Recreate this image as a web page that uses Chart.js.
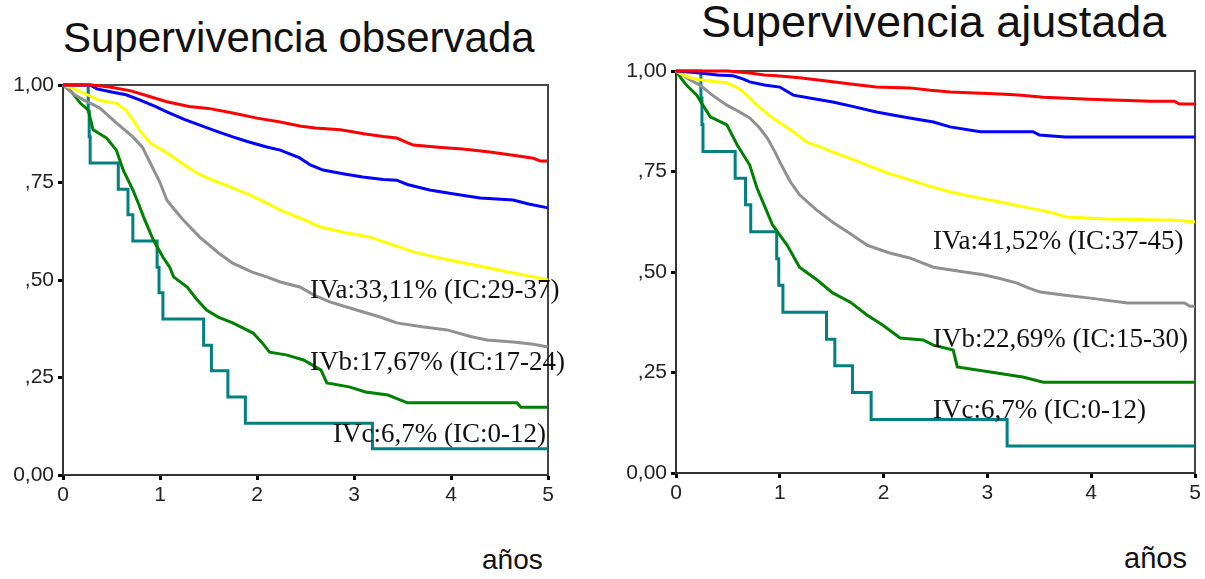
<!DOCTYPE html>
<html>
<head>
<meta charset="utf-8">
<script src="https://cdn.jsdelivr.net/npm/chart.js@4/dist/chart.umd.min.js"></script>
<style>
  body { margin: 0; background: #fff; }
  #wrap { position: relative; width: 1205px; height: 579px; overflow: hidden; background: #fff; }
  canvas { position: absolute; top: 0; }
  .titulo { position: absolute; font-family: "Liberation Sans", Arial, sans-serif; color: #111; line-height: 1; white-space: nowrap; }
</style>
</head>
<body>
<div id="wrap">
  <div class="titulo" style="left:63px; top:17px; font-size:42px;">Supervivencia observada</div>
  <div class="titulo" style="left:701px; top:-1px; font-size:45px;">Supervivencia ajustada</div>
  <div class="titulo" style="left:482px; top:546px; font-size:28px;">años</div>
  <div class="titulo" style="left:1124px; top:544px; font-size:29px;">años</div>
  <canvas id="chartObs" width="600" height="579" style="left:0px;"></canvas>
  <canvas id="chartAju" width="605" height="579" style="left:600px;"></canvas>
</div>
<script>
// ticks
const xTicks = [0, 1, 2, 3, 4, 5];
const yTickValues = [0, 0.25, 0.5, 0.75, 1];
const yTickLabels = ['0,00', ',25', ',50', ',75', '1,00'];

// supervivencia observada: [años, proporcion]
const obsRojo = [[0,1],[0.3,1],[0.48,0.995],[0.7,0.985],[0.9,0.97],[1.07,0.957],[1.3,0.945],[1.5,0.94],[1.75,0.928],[2.0,0.915],[2.24,0.905],[2.44,0.895],[2.6,0.89],[2.86,0.885],[3.1,0.875],[3.3,0.868],[3.44,0.864],[3.55,0.852],[3.61,0.846],[3.9,0.84],[4.12,0.836],[4.4,0.828],[4.64,0.82],[4.85,0.812],[4.92,0.805],[5,0.805]];
const obsAzul = [[0,1],[0.28,1],[0.35,0.99],[0.5,0.982],[0.65,0.975],[0.79,0.962],[0.95,0.945],[1.07,0.931],[1.25,0.912],[1.41,0.897],[1.6,0.88],[1.75,0.867],[1.9,0.855],[2.1,0.841],[2.24,0.833],[2.44,0.813],[2.55,0.795],[2.68,0.782],[2.9,0.772],[3.09,0.764],[3.3,0.758],[3.44,0.756],[3.55,0.745],[3.78,0.731],[4.0,0.722],[4.3,0.71],[4.64,0.705],[4.8,0.695],[5,0.685]];
const obsAmarillo = [[0,1],[0.1,0.992],[0.25,0.975],[0.38,0.96],[0.55,0.953],[0.65,0.935],[0.72,0.91],[0.8,0.88],[0.9,0.851],[1.07,0.826],[1.25,0.795],[1.41,0.77],[1.6,0.75],[1.75,0.736],[1.95,0.715],[2.1,0.697],[2.24,0.679],[2.44,0.659],[2.65,0.636],[2.9,0.622],[3.16,0.61],[3.4,0.59],[3.61,0.572],[3.85,0.558],[4.12,0.544],[4.4,0.53],[4.64,0.518],[4.85,0.508],[5,0.5]];
const obsGris = [[0,1],[0.05,0.99],[0.12,0.975],[0.21,0.962],[0.38,0.941],[0.55,0.903],[0.72,0.867],[0.82,0.84],[0.9,0.8],[1.0,0.75],[1.07,0.705],[1.15,0.68],[1.24,0.654],[1.41,0.61],[1.6,0.57],[1.75,0.543],[1.95,0.52],[2.1,0.508],[2.24,0.495],[2.44,0.482],[2.6,0.46],[2.75,0.444],[3.0,0.425],[3.27,0.405],[3.44,0.39],[3.7,0.38],[3.96,0.372],[4.2,0.355],[4.37,0.346],[4.64,0.341],[4.85,0.335],[5,0.328]];
const obsVerde = [[0,1],[0.05,0.99],[0.09,0.982],[0.18,0.953],[0.26,0.936],[0.31,0.885],[0.45,0.864],[0.55,0.833],[0.62,0.782],[0.72,0.731],[0.78,0.695],[0.83,0.662],[0.93,0.603],[1.03,0.559],[1.1,0.533],[1.14,0.508],[1.28,0.482],[1.38,0.45],[1.48,0.423],[1.6,0.405],[1.75,0.39],[1.96,0.364],[2.05,0.34],[2.13,0.315],[2.3,0.308],[2.48,0.295],[2.66,0.269],[2.72,0.236],[2.95,0.226],[3.12,0.213],[3.35,0.205],[3.55,0.185],[4.68,0.185],[4.72,0.174],[5,0.174]];
const obsTeal = [[0,1],[0.26,0.933],[0.27,0.867],[0.28,0.8],[0.57,0.733],[0.67,0.667],[0.72,0.6],[0.97,0.533],[0.99,0.467],[1.03,0.4],[1.45,0.333],[1.53,0.267],[1.7,0.2],[1.88,0.133],[3.19,0.067],[5,0.067]];

// supervivencia ajustada
const ajuRojo = [[0,1],[0.5,1],[0.71,0.995],[0.85,0.99],[0.97,0.988],[1.19,0.983],[1.35,0.978],[1.51,0.973],[1.7,0.967],[1.93,0.96],[2.25,0.958],[2.45,0.952],[2.64,0.948],[3.12,0.943],[3.3,0.94],[3.54,0.935],[3.99,0.93],[4.57,0.925],[4.8,0.925],[4.85,0.918],[5,0.918]];
const ajuAzul = [[0,1],[0.15,0.997],[0.23,0.995],[0.4,0.99],[0.55,0.988],[0.65,0.98],[0.71,0.973],[0.85,0.965],[1.0,0.96],[1.13,0.94],[1.3,0.932],[1.51,0.923],[1.7,0.912],[1.93,0.898],[2.1,0.89],[2.25,0.883],[2.48,0.873],[2.64,0.861],[2.93,0.849],[3.44,0.849],[3.5,0.841],[3.75,0.836],[5,0.836]];
const ajuAmarillo = [[0,1],[0.07,0.99],[0.15,0.982],[0.23,0.978],[0.49,0.97],[0.58,0.96],[0.65,0.948],[0.72,0.93],[0.81,0.908],[0.92,0.885],[1.03,0.866],[1.15,0.845],[1.26,0.823],[1.4,0.81],[1.51,0.798],[1.7,0.78],[1.84,0.766],[2.05,0.745],[2.25,0.729],[2.45,0.713],[2.64,0.699],[2.9,0.685],[3.12,0.674],[3.35,0.662],[3.6,0.649],[3.76,0.637],[4.15,0.632],[4.83,0.629],[4.95,0.625],[5,0.625]];
const ajuGris = [[0,1],[0.04,0.995],[0.12,0.98],[0.23,0.965],[0.35,0.94],[0.49,0.915],[0.6,0.9],[0.71,0.883],[0.8,0.86],[0.88,0.833],[0.95,0.8],[1.03,0.759],[1.1,0.725],[1.19,0.692],[1.35,0.655],[1.51,0.624],[1.68,0.595],[1.84,0.567],[2.05,0.548],[2.25,0.535],[2.48,0.512],[2.7,0.503],[2.96,0.493],[3.1,0.485],[3.28,0.473],[3.4,0.46],[3.51,0.45],[3.75,0.442],[3.99,0.435],[4.35,0.423],[4.9,0.423],[4.95,0.415],[5,0.415]];
const ajuVerde = [[0,1],[0.04,0.985],[0.1,0.965],[0.2,0.94],[0.26,0.915],[0.33,0.886],[0.49,0.866],[0.59,0.816],[0.71,0.766],[0.78,0.709],[0.86,0.66],[0.93,0.617],[1.07,0.567],[1.19,0.512],[1.36,0.48],[1.51,0.448],[1.68,0.425],[1.84,0.393],[1.99,0.368],[2.16,0.336],[2.38,0.331],[2.48,0.318],[2.67,0.306],[2.71,0.264],[3.09,0.249],[3.34,0.239],[3.54,0.226],[5,0.226]];
const ajuTeal = [[0,1],[0.24,0.933],[0.25,0.867],[0.26,0.8],[0.57,0.733],[0.67,0.667],[0.72,0.6],[0.97,0.533],[0.99,0.467],[1.03,0.4],[1.45,0.333],[1.53,0.267],[1.7,0.2],[1.88,0.133],[3.19,0.067],[5,0.067]];

// rotulos: texto, años, proporcion (linea base)
const obsRotulos = [['IVa:33,11% (IC:29-37)', 2.546, 0.454], ['IVb:17,67% (IC:17-24)', 2.546, 0.269], ['IVc:6,7% (IC:0-12)', 2.784, 0.085]];
const ajuRotulos = [['IVa:41,52% (IC:37-45)', 2.476, 0.557], ['IVb:22,69% (IC:15-30)', 2.476, 0.313], ['IVc:6,7% (IC:0-12)', 2.476, 0.137]];

const colores = ['#ff0000', '#0000ff', '#ffff00', '#909090', '#008000', '#008080'];
// solo el grupo pequeño (IVc) se ve en escalones grandes
const escalones = [false, false, false, false, false, true];

function puntos(serie) {
   return serie.map(p => ({ x: p[0], y: p[1] }));
}

// marco y rotulos
const marcoPlugin = {
   id: 'marco',
   beforeDatasetsDraw(chart) {
      const a = chart.chartArea;
      const ctx = chart.ctx;
      ctx.save();
      ctx.strokeStyle = '#444';
      ctx.lineWidth = 2;
      ctx.beginPath();
      ctx.moveTo(a.left, a.top);
      ctx.lineTo(a.right, a.top);
      ctx.lineTo(a.right, a.bottom);
      ctx.stroke();
      ctx.restore();
   },
   afterDatasetsDraw(chart, args, opts) {
      const ctx = chart.ctx;
      const xs = chart.scales.x;
      const ys = chart.scales.y;
      ctx.save();
      ctx.font = '27px "Liberation Serif", "Times New Roman", serif';
      ctx.fillStyle = '#111';
      ctx.textAlign = 'left';
      ctx.textBaseline = 'alphabetic';
      opts.rotulos.forEach(r => {
         ctx.fillText(r[0], xs.getPixelForValue(r[1]), ys.getPixelForValue(r[2]));
      });
      ctx.restore();
   }
};

function hacerGrafico(id, series, rotulos, pad, ejeY, ejeX) {
   const ctx = document.getElementById(id).getContext('2d');
   return new Chart(ctx, {
      type: 'line',
      data: {
         datasets: series.map((s, i) => ({
            data: puntos(s),
            borderColor: colores[i],
            borderWidth: 3,
            pointRadius: 0,
            stepped: escalones[i],
            tension: 0,
            fill: false,
            clip: 4
         }))
      },
      options: {
         responsive: false,
         animation: false,
         devicePixelRatio: 1,
         layout: { padding: pad },
         plugins: {
            legend: { display: false },
            tooltip: { enabled: false },
            marco: { rotulos: rotulos }
         },
         scales: {
            x: {
               type: 'linear',
               min: 0,
               max: 5,
               afterBuildTicks: s => { s.ticks = xTicks.map(v => ({ value: v })); },
               ticks: { font: { family: 'Liberation Sans', size: 21 }, color: '#222', padding: 3, callback: v => String(v) },
               grid: { drawOnChartArea: false, drawTicks: true, tickLength: 5, tickWidth: 3, tickColor: '#000' },
               border: { display: true, color: '#333', width: 2 },
               afterFit: s => { s.height = ejeX; }
            },
            y: {
               min: 0,
               max: 1,
               afterBuildTicks: s => { s.ticks = yTickValues.map(v => ({ value: v })); },
               ticks: { font: { family: 'Liberation Sans', size: 21 }, color: '#222', padding: 4,
                  callback: v => yTickLabels[yTickValues.indexOf(v)] },
               grid: { drawOnChartArea: false, drawTicks: true, tickLength: 5, tickWidth: 3, tickColor: '#000' },
               border: { display: true, color: '#333', width: 2 },
               afterFit: s => { s.width = ejeY; }
            }
         }
      },
      plugins: [marcoPlugin]
   });
}

hacerGrafico('chartObs', [obsRojo, obsAzul, obsAmarillo, obsGris, obsVerde, obsTeal], obsRotulos,
   { left: 0, top: 85, right: 52, bottom: 0 }, 63, 104);
hacerGrafico('chartAju', [ajuRojo, ajuAzul, ajuAmarillo, ajuGris, ajuVerde, ajuTeal], ajuRotulos,
   { left: 0, top: 71, right: 10, bottom: 0 }, 76, 106);
</script>
</body>
</html>
